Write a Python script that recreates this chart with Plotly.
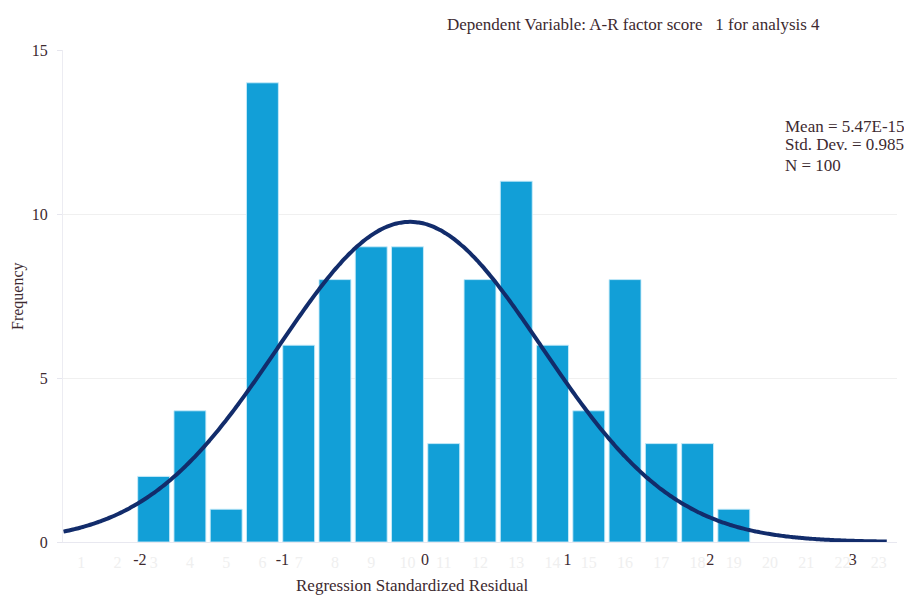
import numpy as np
import plotly.graph_objects as go

# Histogram of regression standardized residuals
bin_labels = [str(i) for i in range(1, 24)]
bin_index = list(range(1, 24))
counts = [0, 0, 2, 4, 1, 14, 6, 8, 9, 9, 3, 8, 11, 6, 4, 8, 3, 3, 1, 0, 0, 0, 0]

# Residual-scale tick labels
residual_ticks = [-2, -1, 0, 1, 2, 3]

# Summary statistics
stat_mean = 5.47e-15
stat_sd = 0.985
stat_n = 100
bin_width = 0.241

freq_ticks = [0, 5, 10, 15]

TEXT = "#3d2a30"
FONT = "Liberation Serif, Times New Roman, serif"

# Fitted normal curve
xr = np.linspace(-2.58, 3.55, 300)
yr = stat_n * bin_width * np.exp(-0.5 * ((xr - stat_mean) / stat_sd) ** 2) / (stat_sd * np.sqrt(2 * np.pi))

fig = go.Figure()
fig.add_trace(go.Bar(
    x=bin_index, y=counts,
    marker=dict(color="#129fd7",
                line=dict(color="rgba(200,235,250,0.9)", width=[1 if c > 0 else 0 for c in counts])),
    xaxis="x", yaxis="y", showlegend=False, hoverinfo="x+y",
))
fig.add_trace(go.Scatter(
    x=xr, y=yr, mode="lines",
    line=dict(color="#122c6b", width=4, shape="spline"),
    xaxis="x3", yaxis="y", showlegend=False,
))
# Residual axis carrier
fig.add_trace(go.Scatter(x=[-2.539, 3.310], y=[None, None], xaxis="x2", yaxis="y",
                         mode="markers", showlegend=False, hoverinfo="skip"))

stats_lines = [f"Mean = 5.47E-15", f"Std. Dev. = {stat_sd}", f"N = {stat_n}"]
stats_y = [0.8455, 0.807, 0.766]

annotations = [
    dict(text="Dependent Variable: A-R factor score \u00a0 1 for analysis 4",
         xref="paper", yref="paper", x=0.6835, y=1.0, yshift=26, xanchor="center", yanchor="middle",
         showarrow=False, font=dict(size=17, color=TEXT)),
    dict(text="Frequency", xref="paper", yref="paper", x=0.0, xshift=-45, y=0.5, textangle=-90,
         xanchor="center", yanchor="middle", showarrow=False, font=dict(size=16, color=TEXT)),
    dict(text="Regression Standardized Residual", xref="paper", yref="paper", x=0.4185, y=-0.0894,
         xanchor="center", yanchor="middle", showarrow=False, font=dict(size=17, color=TEXT)),
]
for txt, yy in zip(stats_lines, stats_y):
    annotations.append(dict(text=txt, xref="paper", yref="paper", x=0.8633, y=yy,
                            xanchor="left", yanchor="middle", showarrow=False,
                            font=dict(size=17, color=TEXT)))

fig.update_layout(
    width=904, height=595,
    margin=dict(l=63, r=7, t=50, b=53),
    paper_bgcolor="white", plot_bgcolor="white",
    font=dict(family=FONT, color=TEXT, size=16),
    bargap=0.12,
    xaxis=dict(
        range=[0.5, 23.5], tickmode="array", tickvals=bin_index, ticktext=bin_labels,
        tickfont=dict(color="#efefef", size=16), showgrid=False, zeroline=False, automargin=False,
        showline=True, linecolor="#e8e8f0", linewidth=1, ticks="", ticklabelstandoff=6,
    ),
    xaxis2=dict(
        overlaying="x", side="bottom", range=[-2.539, 3.310], automargin=False,
        tickmode="array", tickvals=residual_ticks, ticktext=[str(t) for t in residual_ticks],
        tickfont=dict(color=TEXT, size=16), showgrid=False, zeroline=False,
        showline=False, ticks="", ticklabelstandoff=6,
    ),
    xaxis3=dict(overlaying="x", range=[-2.584, 3.626], visible=False),
    yaxis=dict(
        range=[0, 15], tickmode="array", tickvals=freq_ticks, automargin=False,
        showgrid=True, gridcolor="#f0f0f0", gridwidth=1, zeroline=False,
        showline=True, linecolor="#ececf2", linewidth=1,
        ticks="outside", ticklen=5, tickcolor="#e6e6ee", ticklabelstandoff=6,
        tickfont=dict(size=16, color=TEXT),
    ),
    annotations=annotations,
)

fig.write_html("out.html")
